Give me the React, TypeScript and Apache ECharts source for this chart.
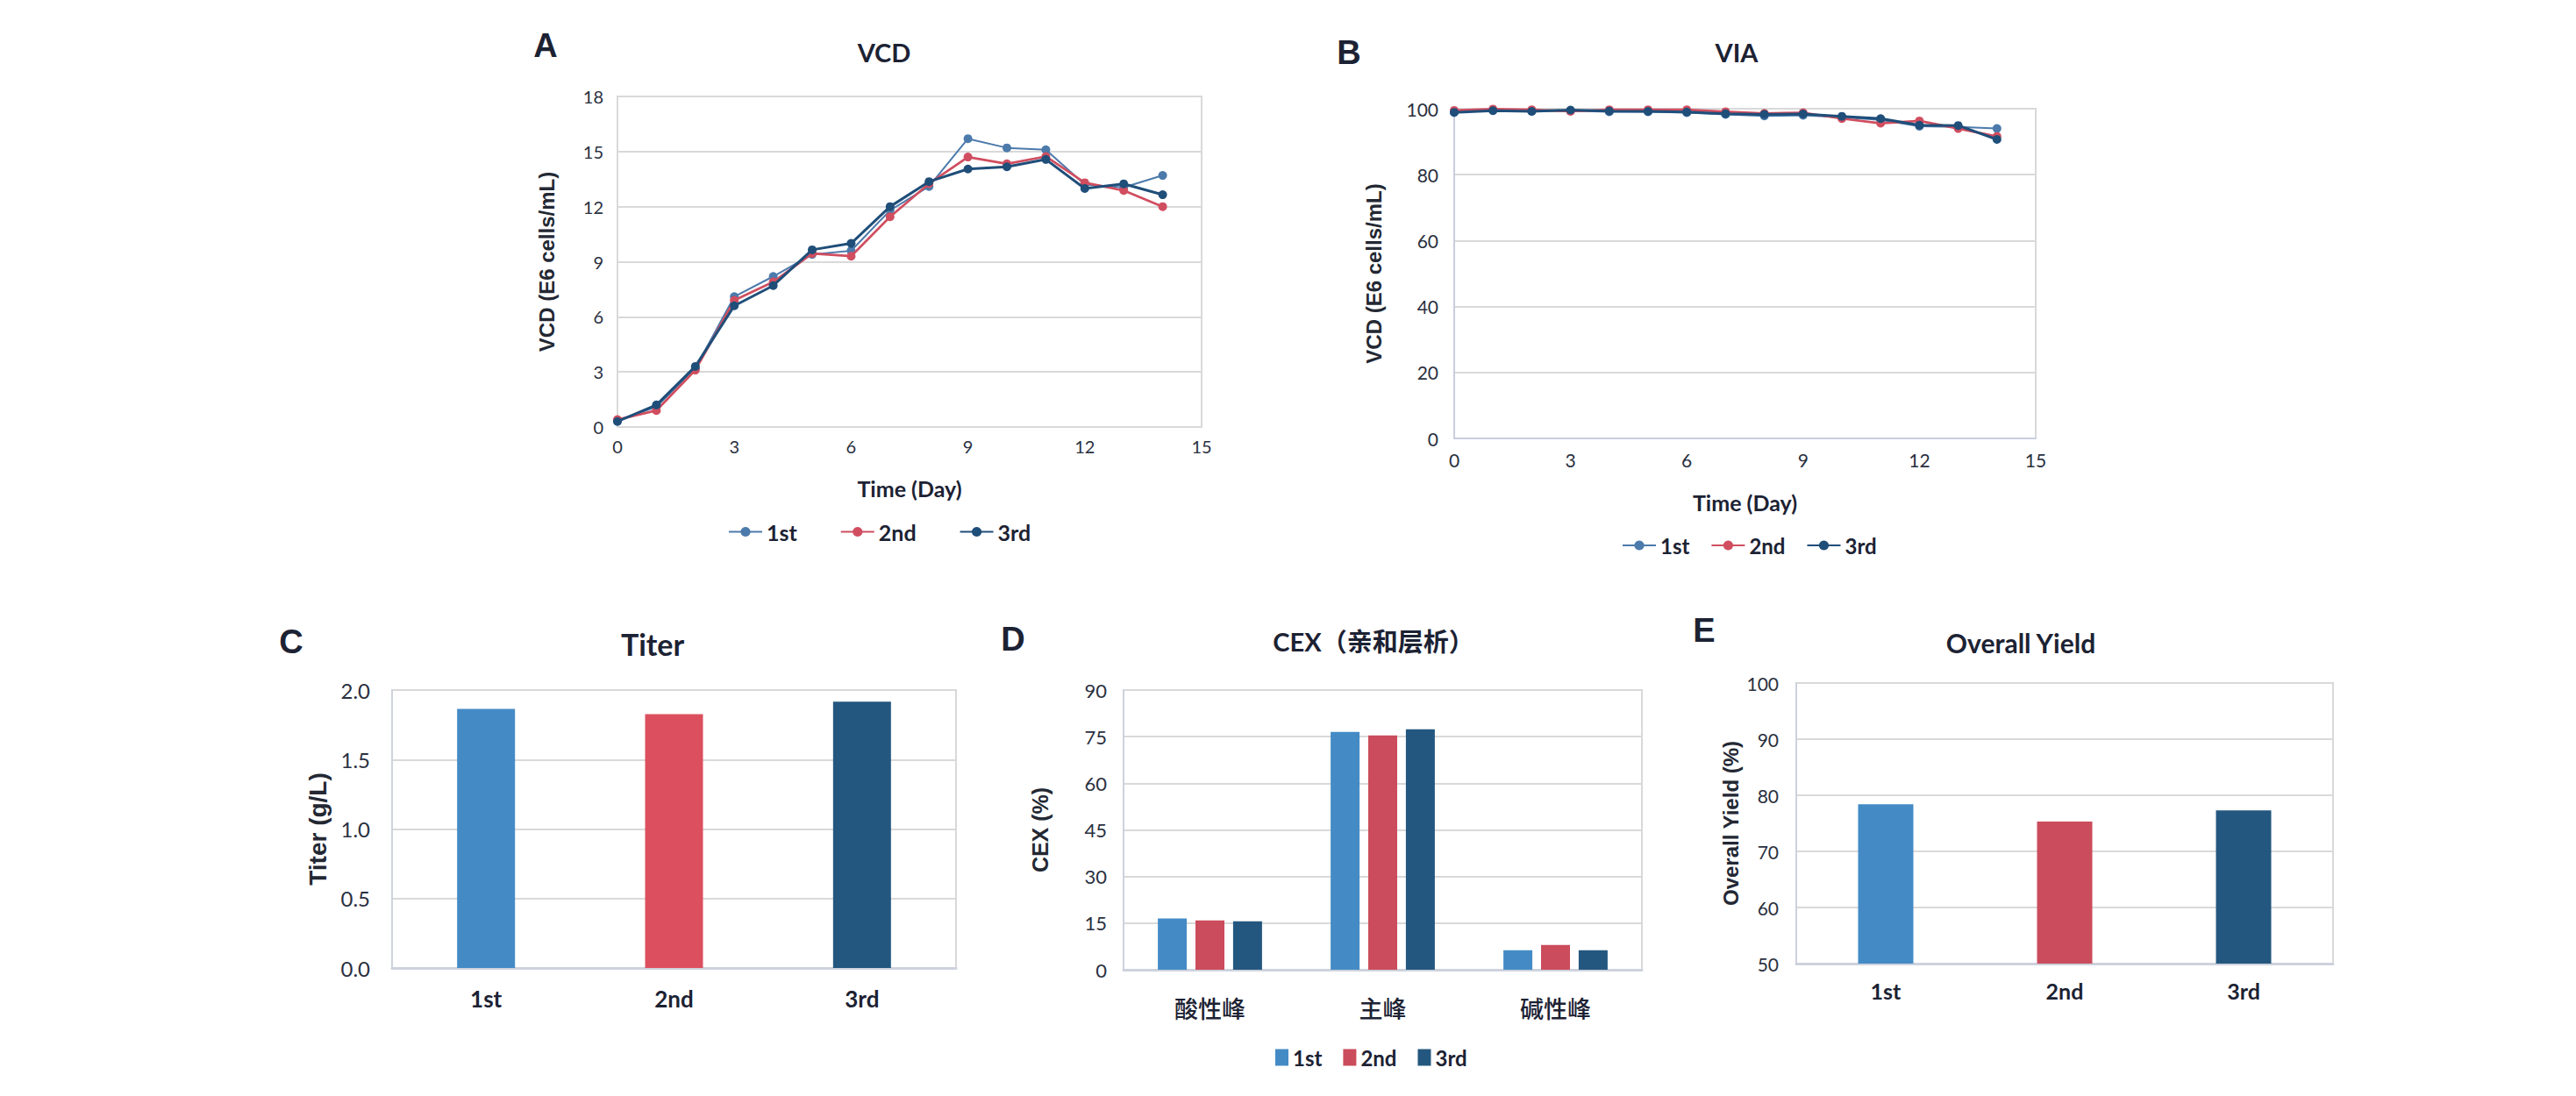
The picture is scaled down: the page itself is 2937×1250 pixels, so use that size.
import React, { useEffect, useRef } from "react";
import * as echarts from "echarts";

// ---------- data ----------
const days = [0, 1, 2, 3, 4, 5, 6, 7, 8, 9, 10, 11, 12, 13, 14];
const runNames = ["1st", "2nd", "3rd"];

const vcd1st = [0.35, 1.1, 3.2, 7.1, 8.2, 9.4, 9.6, 11.8, 13.1, 15.7, 15.2, 15.1, 13.2, 13.05, 13.7];
const vcd2nd = [0.4, 0.9, 3.1, 6.9, 7.9, 9.45, 9.3, 11.45, 13.25, 14.7, 14.33, 14.73, 13.3, 12.88, 12.0];
const vcd3rd = [0.3, 1.2, 3.3, 6.6, 7.7, 9.65, 10.0, 12.0, 13.36, 14.05, 14.17, 14.57, 12.99, 13.24, 12.65];

const via1st = [99.0, 99.6, 99.2, 99.4, 99.1, 99.1, 98.8, 98.3, 97.8, 98.0, 97.4, 96.6, 94.7, 94.5, 94.0];
const via2nd = [99.5, 99.9, 99.7, 99.2, 99.7, 99.7, 99.7, 99.1, 98.6, 98.8, 97.0, 95.6, 96.3, 94.0, 91.6];
const via3rd = [98.9, 99.4, 99.2, 99.6, 99.3, 99.2, 99.0, 98.5, 98.3, 98.4, 97.7, 97.0, 95.0, 94.9, 90.7];

const titer = [1.865, 1.827, 1.916];

const cexCategories = ["酸性峰", "主峰", "碱性峰"];
const cex1st = [16.5, 76.5, 6.3];
const cex2nd = [15.9, 75.4, 8.0];
const cex3rd = [15.6, 77.4, 6.3];

const overallYield = [78.4, 75.3, 77.3];

// ---------- styles ----------
const HEADF = "Lato, 'Liberation Sans', sans-serif";
const TICKF = "Lato, 'Liberation Sans', sans-serif";
const NAMEF = "'Liberation Sans', Arial, sans-serif";
const CJKF = "Lato, 'Noto Sans CJK SC', sans-serif";
const CJKONLY = "'Noto Sans CJK SC', sans-serif";

const INK = "#1c2233";
const TICK = "#2a3040";
const GRIDC = "#D9D9D9";
const AXISC = "#CDD2DD";

const lineColors = ["#4C7AAB", "#D04E60", "#1F4E79"];
const lineWidths = [2, 2.7, 3];
const barColorsC = ["#448BC6", "#DC4F5F", "#24577F"];
const barColors = ["#448BC6", "#CB4C5C", "#24577F"];

function letter(t: string, x: number, y: number) {
  return {
    type: "text",
    x,
    y,
    style: { text: t, fontSize: 38, fontWeight: "bold", fontFamily: NAMEF, fill: INK, align: "center", verticalAlign: "middle" },
  };
}
function heading(t: string, x: number, y: number, size: number, family = HEADF) {
  return {
    type: "text",
    x,
    y,
    style: { text: t, fontSize: size, fontWeight: "bold", fontFamily: family, fill: INK, align: "center", verticalAlign: "middle" },
  };
}

function valueAxis(min: number, max: number, interval: number, fontSize: number, margin: number, extra: any = {}) {
  return {
    type: "value",
    min,
    max,
    interval,
    axisLine: { show: true, lineStyle: { color: GRIDC, width: 2 } },
    axisTick: { show: false },
    splitLine: { show: false },
    axisLabel: { fontSize, fontWeight: 400, fontFamily: TICKF, color: TICK, margin },
    ...extra,
  };
}

function yName(name: string, gap: number, size: number) {
  return {
    name,
    nameLocation: "middle",
    nameGap: gap,
    nameTextStyle: { fontSize: size, fontWeight: "bold", fontFamily: NAMEF, color: "#232833" },
  };
}

const ySplit = { splitLine: { show: true, lineStyle: { color: GRIDC, width: 2 } } };

function lineSeries(values: number[][]) {
  return values.map((vals, k) => ({
    type: "line",
    name: runNames[k],
    data: days.map((d, i) => [d, vals[i]]),
    symbol: "circle",
    symbolSize: 10,
    lineStyle: { width: lineWidths[k], color: lineColors[k] },
    itemStyle: { color: lineColors[k] },
    z: 2 + k,
  }));
}

function lineLegend(left: number, top: number, gap: number, size: number) {
  return {
    data: runNames,
    left,
    top,
    itemWidth: 38,
    itemHeight: 14,
    itemGap: gap,
    textStyle: { fontSize: size, fontWeight: "bold", fontFamily: HEADF, color: INK },
  };
}

const xTimeName = (gap: number) => ({
  name: "Time (Day)",
  nameLocation: "middle",
  nameGap: gap,
  nameTextStyle: { fontSize: 25, fontWeight: "bold", fontFamily: HEADF, color: INK },
});

// ---------- options ----------
const optionA = {
  animation: false,
  graphic: [letter("A", 622, 52), heading("VCD", 1008, 59, 29)],
  grid: { left: 704, top: 110, width: 666, height: 377, show: true, borderColor: GRIDC, borderWidth: 2 },
  xAxis: valueAxis(0, 15, 3, 20, 12, xTimeName(57)),
  yAxis: valueAxis(0, 18, 3, 20, 16, { ...ySplit, ...yName("VCD (E6 cells/mL)", 69, 24) }),
  legend: lineLegend(825, 589, 49, 25),
  series: lineSeries([vcd1st, vcd2nd, vcd3rd]),
};

const optionB = {
  animation: false,
  graphic: [letter("B", 1538, 60), heading("VIA", 1980, 59, 29)],
  grid: { left: 1658, top: 124, width: 663, height: 376, show: true, borderColor: GRIDC, borderWidth: 2 },
  xAxis: valueAxis(0, 15, 3, 21, 14, {
    ...xTimeName(60),
    axisLine: { show: true, lineStyle: { color: "#C9CFE0", width: 2 } },
  }),
  yAxis: valueAxis(0, 100, 20, 21, 18, {
    ...ySplit,
    ...yName("VCD (E6 cells/mL)", 80, 24),
    axisLine: { show: true, lineStyle: { color: "#C9CFE0", width: 2 } },
  }),
  legend: lineLegend(1844, 605, 24, 24),
  series: lineSeries([via1st, via2nd, via3rd]),
};

function catAxis(data: string[], fontSize: number, margin: number, family = HEADF, weight: any = "bold") {
  return {
    type: "category",
    data,
    axisLine: { show: true, lineStyle: { color: AXISC, width: 3 } },
    axisTick: { show: false },
    axisLabel: { fontSize, fontWeight: weight, fontFamily: family, color: INK, margin },
  };
}

const optionC = {
  animation: false,
  graphic: [letter("C", 332, 732), heading("Titer", 744, 734, 34)],
  grid: { left: 447, top: 787, width: 643, height: 317, show: true, borderColor: GRIDC, borderWidth: 2 },
  xAxis: catAxis(runNames, 26, 22),
  yAxis: valueAxis(0, 2, 0.5, 24, 25, {
    ...ySplit,
    ...yName("Titer (g/L)", 71, 28),
    axisLine: { show: true, lineStyle: { color: AXISC, width: 2 } },
    axisLabel: { fontSize: 24, fontWeight: 400, fontFamily: TICKF, color: TICK, margin: 25, formatter: (v: number) => v.toFixed(1) },
  }),
  series: [
    {
      type: "bar",
      name: "Titer",
      barWidth: 66,
      data: titer.map((v, i) => ({ value: v, itemStyle: { color: barColorsC[i] } })),
    },
  ],
};

const optionD = {
  animation: false,
  graphic: [letter("D", 1155, 729), heading("CEX（亲和层析）", 1566, 731, 29, CJKF)],
  grid: { left: 1281, top: 787, width: 591, height: 319, show: true, borderColor: GRIDC, borderWidth: 2 },
  xAxis: catAxis(cexCategories, 27, 30, CJKONLY, 500),
  yAxis: valueAxis(0, 90, 15, 22, 19, {
    ...ySplit,
    ...yName("CEX (%)", 83, 25),
    axisLine: { show: true, lineStyle: { color: AXISC, width: 2 } },
  }),
  legend: {
    data: runNames,
    left: 1449,
    top: 1189,
    icon: "rect",
    itemWidth: 15,
    itemHeight: 19,
    itemGap: 24,
    textStyle: { fontSize: 24, fontWeight: "bold", fontFamily: HEADF, color: INK },
  },
  series: [cex1st, cex2nd, cex3rd].map((vals, k) => ({
    type: "bar",
    name: runNames[k],
    data: vals,
    barWidth: 33,
    barGap: "30%",
    itemStyle: { color: barColors[k] },
  })),
};

const optionE = {
  animation: false,
  graphic: [letter("E", 1943, 719), heading("Overall Yield", 2304, 733, 30)],
  grid: { left: 2048, top: 779, width: 612, height: 320, show: true, borderColor: GRIDC, borderWidth: 2 },
  xAxis: catAxis(runNames, 25, 18),
  yAxis: valueAxis(50, 100, 10, 21, 20, {
    ...ySplit,
    ...yName("Overall Yield (%)", 63, 24),
    axisLine: { show: true, lineStyle: { color: AXISC, width: 2 } },
  }),
  series: [
    {
      type: "bar",
      name: "Overall Yield",
      barWidth: 63,
      data: overallYield.map((v, i) => ({ value: v, itemStyle: { color: barColors[i] } })),
    },
  ],
};

function Layer({ option }: { option: any }) {
  const ref = useRef<HTMLDivElement>(null);
  useEffect(() => {
    const chart = echarts.init(ref.current!, null, { renderer: "svg" });
    chart.setOption(option);
    return () => chart.dispose();
  }, [option]);
  return <div ref={ref} style={{ position: "absolute", left: 0, top: 0, width: 2937, height: 1250 }} />;
}

export default function App() {
  return (
    <div style={{ position: "absolute", left: 0, top: 0, width: 2937, height: 1250, background: "#ffffff", overflow: "hidden" }}>
      <Layer option={optionA} />
      <Layer option={optionB} />
      <Layer option={optionC} />
      <Layer option={optionD} />
      <Layer option={optionE} />
    </div>
  );
}
